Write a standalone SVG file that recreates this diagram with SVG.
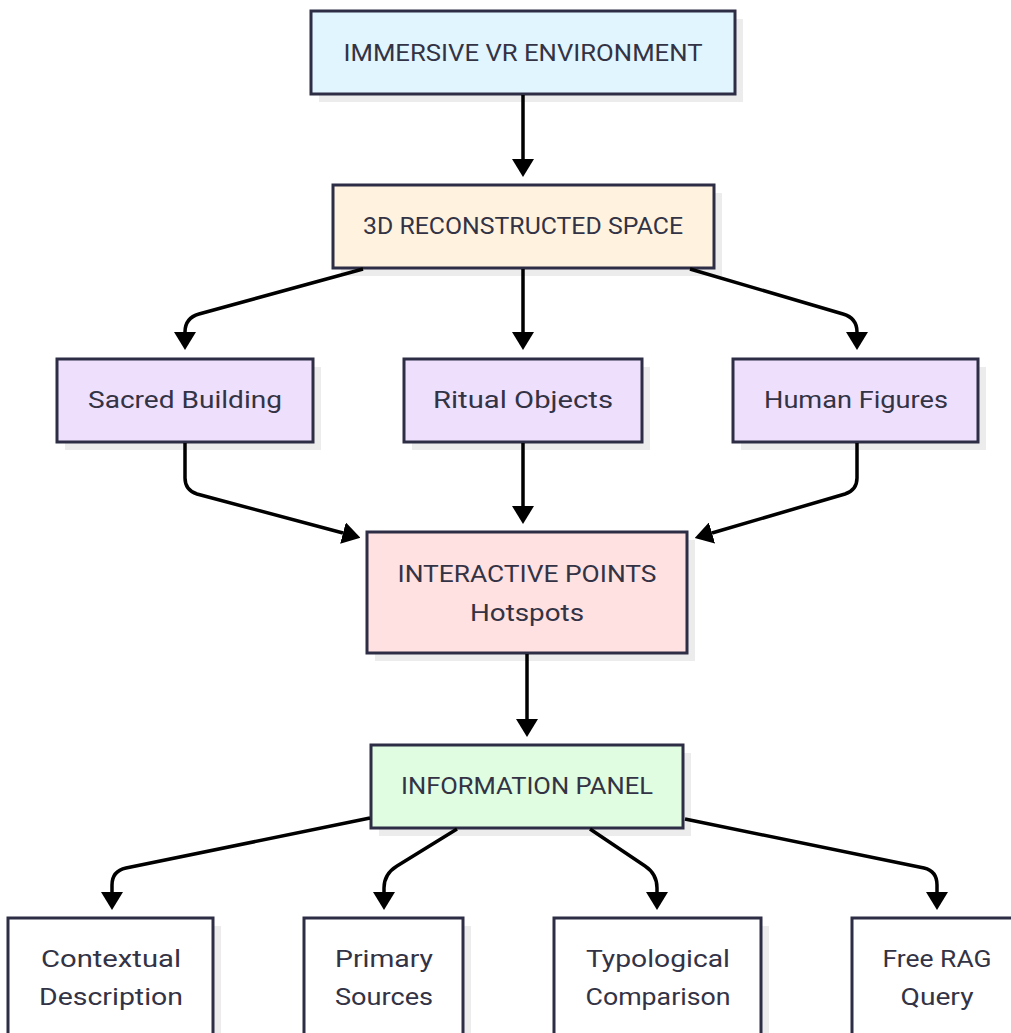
<svg xmlns="http://www.w3.org/2000/svg" width="1011" height="1033" viewBox="0 0 1011 1033">
  <defs>
    <style>
      .box { stroke: #2d2d45; stroke-width: 3; }
      .shadow { fill: #ececec; }
      .lbl { font-family: Roboto, "Liberation Sans", sans-serif; font-size: 23px; fill: #333345; text-anchor: middle; }
      .edge { fill: none; stroke: #000; stroke-width: 3.5; }
      .vr { fill: #e1f5fe; }
      .space { fill: #fff3e0; }
      .elem { fill: #eee0fd; }
      .hot { fill: #ffe1e1; }
      .panel { fill: #e0fde1; }
      .leaf { fill: #ffffff; }
    </style>
    <marker id="ah" viewBox="0 0 18 22" refX="0" refY="11" markerWidth="18" markerHeight="22" orient="auto" markerUnits="userSpaceOnUse">
      <path d="M0,0 L18,11 L0,22 z" fill="#000"/>
    </marker>
  </defs>

  <rect width="1011" height="1033" fill="#ffffff"/>

  <!-- nodes -->
  <g id="vr-environment">
    <rect class="shadow" x="319" y="19" width="424" height="83"/>
    <rect class="box vr" x="311" y="11" width="424" height="83"/>
    <text class="lbl" x="523" y="61" textLength="359" lengthAdjust="spacingAndGlyphs">IMMERSIVE VR ENVIRONMENT</text>
  </g>

  <g id="reconstructed-space">
    <rect class="shadow" x="341" y="193" width="381" height="83"/>
    <rect class="box space" x="333" y="185" width="381" height="83"/>
    <text class="lbl" x="523" y="234" textLength="320" lengthAdjust="spacingAndGlyphs">3D RECONSTRUCTED SPACE</text>
  </g>

  <g id="sacred-building">
    <rect class="shadow" x="65" y="367" width="256" height="83"/>
    <rect class="box elem" x="57" y="359" width="256" height="83"/>
    <text class="lbl" x="185" y="408" textLength="194" lengthAdjust="spacingAndGlyphs">Sacred Building</text>
  </g>

  <g id="ritual-objects">
    <rect class="shadow" x="412" y="367" width="238" height="83"/>
    <rect class="box elem" x="404" y="359" width="238" height="83"/>
    <text class="lbl" x="523" y="408" textLength="180" lengthAdjust="spacingAndGlyphs">Ritual Objects</text>
  </g>

  <g id="human-figures">
    <rect class="shadow" x="741" y="367" width="245" height="83"/>
    <rect class="box elem" x="733" y="359" width="245" height="83"/>
    <text class="lbl" x="856" y="408" textLength="184" lengthAdjust="spacingAndGlyphs">Human Figures</text>
  </g>

  <g id="interactive-points">
    <rect class="shadow" x="375" y="540" width="320" height="121"/>
    <rect class="box hot" x="367" y="532" width="320" height="121"/>
    <text class="lbl" x="527" y="582" textLength="259" lengthAdjust="spacingAndGlyphs">INTERACTIVE POINTS</text>
    <text class="lbl" x="527" y="621" textLength="114" lengthAdjust="spacingAndGlyphs">Hotspots</text>
  </g>

  <g id="information-panel">
    <rect class="shadow" x="379" y="753" width="312" height="83"/>
    <rect class="box panel" x="371" y="745" width="312" height="83"/>
    <text class="lbl" x="527" y="794" textLength="252" lengthAdjust="spacingAndGlyphs">INFORMATION PANEL</text>
  </g>

  <g id="contextual-description">
    <rect class="shadow" x="16" y="926" width="205" height="121"/>
    <rect class="box leaf" x="8" y="918" width="205" height="121"/>
    <text class="lbl" x="111" y="967" textLength="140" lengthAdjust="spacingAndGlyphs">Contextual</text>
    <text class="lbl" x="111" y="1005" textLength="144" lengthAdjust="spacingAndGlyphs">Description</text>
  </g>

  <g id="primary-sources">
    <rect class="shadow" x="312" y="926" width="159" height="121"/>
    <rect class="box leaf" x="304" y="918" width="159" height="121"/>
    <text class="lbl" x="384" y="967" textLength="98" lengthAdjust="spacingAndGlyphs">Primary</text>
    <text class="lbl" x="384" y="1005" textLength="98" lengthAdjust="spacingAndGlyphs">Sources</text>
  </g>

  <g id="typological-comparison">
    <rect class="shadow" x="562" y="926" width="207" height="121"/>
    <rect class="box leaf" x="554" y="918" width="207" height="121"/>
    <text class="lbl" x="658" y="967" textLength="144" lengthAdjust="spacingAndGlyphs">Typological</text>
    <text class="lbl" x="658" y="1005" textLength="145" lengthAdjust="spacingAndGlyphs">Comparison</text>
  </g>

  <g id="free-rag-query">
    <rect class="shadow" x="860" y="926" width="170" height="121"/>
    <rect class="box leaf" x="852" y="918" width="170" height="121"/>
    <text class="lbl" x="937" y="967" textLength="109" lengthAdjust="spacingAndGlyphs">Free RAG</text>
    <text class="lbl" x="937" y="1005" textLength="73" lengthAdjust="spacingAndGlyphs">Query</text>
  </g>

  <!-- connectors, drawn over the node shadows -->
  <g id="edges">
    <path class="edge" marker-end="url(#ah)" d="M523,95 V159"/>
    <path class="edge" marker-end="url(#ah)" d="M363,269 L199,314 Q185,318 185,332"/>
    <path class="edge" marker-end="url(#ah)" d="M523,269 V332"/>
    <path class="edge" marker-end="url(#ah)" d="M690,269 L843,314 Q857,318 857,332"/>
    <path class="edge" marker-end="url(#ah)" d="M185,443 V478 Q185,490 197,494 L343,533"/>
    <path class="edge" marker-end="url(#ah)" d="M523,443 V506"/>
    <path class="edge" marker-end="url(#ah)" d="M857,443 V478 Q857,490 845,494 L712,533"/>
    <path class="edge" marker-end="url(#ah)" d="M527,654 V719"/>
    <path class="edge" marker-end="url(#ah)" d="M370,818 L126,868 Q112,871 112,885 V892"/>
    <path class="edge" marker-end="url(#ah)" d="M457,829 L397,866 Q384,874 384,888 V892"/>
    <path class="edge" marker-end="url(#ah)" d="M590,829 L645,866 Q657,874 657,888 V892"/>
    <path class="edge" marker-end="url(#ah)" d="M685,819 L924,868 Q937,871 937,885 V892"/>
  </g>
</svg>
